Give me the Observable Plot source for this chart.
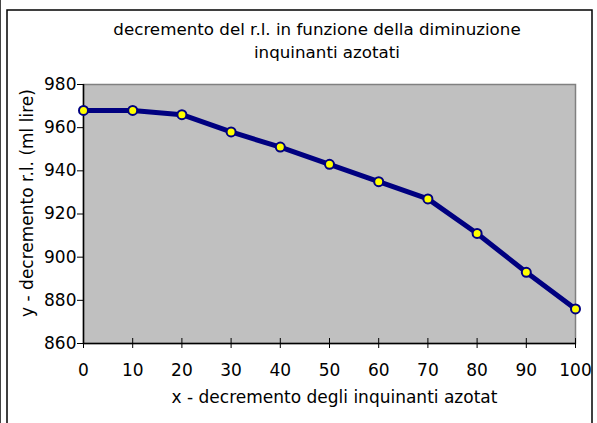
<!DOCTYPE html>
<html>
<head>
<meta charset="utf-8">
<script src="https://cdn.jsdelivr.net/npm/d3@7"></script>
<script src="https://cdn.jsdelivr.net/npm/@observablehq/plot@0.6"></script>
<style>
  html, body { margin: 0; padding: 0; background: #fff; }
  #chart svg { display: block; }
</style>
</head>
<body>
<div id="chart"></div>
<script>
const xValues = [0, 10, 20, 30, 40, 50, 60, 70, 80, 90, 100];
const yValues = [968, 968, 966, 958, 951, 943, 935, 927, 911, 893, 876];
const xTicks = [0, 10, 20, 30, 40, 50, 60, 70, 80, 90, 100];
const yTicks = [860, 880, 900, 920, 940, 960, 980];
const titleLine1 = "decremento del r.l. in funzione della diminuzione";
const titleLine2 = "inquinanti azotati";
const xLabel = "x - decremento degli inquinanti azotat";
const yLabel = "y - decremento r.l. (ml lire)";

const data = xValues.map((x, i) => ({x, y: yValues[i]}));
const font = "DejaVu Sans, sans-serif";

const plot = Plot.plot({
  width: 597,
  height: 423,
  marginLeft: 83,
  marginRight: 22,
  marginTop: 84,
  marginBottom: 80,
  style: {fontFamily: font, background: "transparent", color: "#000"},
  x: {domain: [0, 100]},
  y: {domain: [860, 980]},
  marks: [
    Plot.frame({fill: "#c0c0c0", stroke: "#808080", strokeWidth: 1.5}),
    Plot.axisX({ticks: xTicks, tickSize: 5, tickPadding: 15, fontSize: 17, label: null, stroke: "#000", strokeWidth: 1}),
    Plot.axisX({ticks: xTicks, tickSize: 5, dy: -5, text: null, label: null, stroke: "#000", strokeWidth: 1}),
    Plot.axisY({ticks: yTicks, tickSize: 6, tickPadding: 1, fontSize: 17, label: null, stroke: "#000", strokeWidth: 1}),
    Plot.ruleX([0], {stroke: "#000", strokeWidth: 1.5}),
    Plot.ruleY([860], {stroke: "#000", strokeWidth: 1.5}),
    Plot.line(data, {x: "x", y: "y", stroke: "#000080", strokeWidth: 5, strokeLinejoin: "round"}),
    Plot.dot(data, {x: "x", y: "y", r: 4.5, fill: "#ffff00", stroke: "#000080", strokeWidth: 2}),
    Plot.text([titleLine1], {frameAnchor: "top", textAnchor: "middle", lineAnchor: "middle", fontSize: 16.7, dx: -12.5, dy: -54.5, fill: "#000"}),
    Plot.text([titleLine2], {frameAnchor: "top", textAnchor: "middle", lineAnchor: "middle", fontSize: 16.7, dx: -2.5, dy: -32, fill: "#000"}),
    Plot.text([xLabel], {frameAnchor: "bottom", textAnchor: "middle", lineAnchor: "middle", fontSize: 17, dx: 5, dy: 54, fill: "#000"}),
    Plot.text([yLabel], {frameAnchor: "left", textAnchor: "middle", lineAnchor: "middle", rotate: -90, fontSize: 17, dx: -56, dy: -11, fill: "#000"})
  ]
});

const svg = d3.select(plot);
svg.append("rect")
  .attr("x", 7).attr("y", 10).attr("width", 585).attr("height", 430)
  .attr("fill", "none").attr("stroke", "#000").attr("stroke-width", 1.5);
svg.append("line")
  .attr("x1", 0.5).attr("x2", 0.5).attr("y1", 0).attr("y2", 423)
  .attr("stroke", "#444").attr("stroke-width", 1);
document.getElementById("chart").appendChild(plot);
</script>
</body>
</html>
